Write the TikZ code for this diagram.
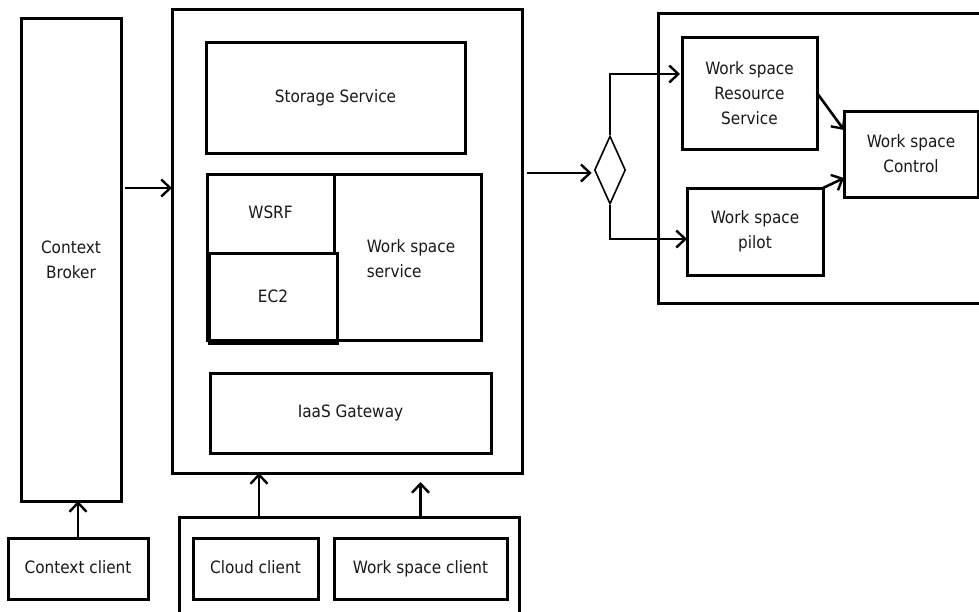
\documentclass[tikz,border=0pt]{standalone}
\usepackage{fontspec}
\setmainfont{DejaVu Sans Condensed}
\usetikzlibrary{arrows.meta,shapes.geometric,calc}

\tikzset{
  box/.style={draw, line width=3pt, rectangle, inner sep=0pt, outer sep=0pt,
    anchor=north west, text=black!90, align=center,
    font=\fontsize{17}{25}\selectfont},
  oneline/.style={text height=13pt, text depth=4pt},
  arr/.style={line width=2.6pt, -{Straight Barb[length=9pt,width=17pt,line width=2.4pt]}},
}

\begin{document}
\begin{tikzpicture}[x=1pt,y=-1pt]
  % canvas
  \fill[white] (0,0) rectangle (979,611);
  \useasboundingbox (0,0) rectangle (979,611);

  % left column
  \node[box, minimum width=100pt, minimum height=483pt] (broker) at (21,18) {Context\\Broker};
  \node[box, oneline, minimum width=140pt, minimum height=61pt] (cclient) at (8,538) {Context client};

  % central service container
  \node[box, minimum width=350pt, minimum height=464pt] (main) at (172,9) {};
  \node[box, oneline, minimum width=259pt, minimum height=111pt] (storage) at (206,42) {Storage Service};
  \node[box, minimum width=274pt, minimum height=166pt] (wss) at (207,174) {};
  \node[anchor=center, text=black!90, align=left, font=\fontsize{17}{25}\selectfont] (wsstext) at (411,259) {Work space\\ service};
  \node[box, oneline, minimum width=127pt, minimum height=79pt] (wsrf) at (207,174) {WSRF};
  \node[box, oneline, minimum width=128pt, minimum height=90pt] (ec2) at (209,253) {EC2};
  \node[box, oneline, minimum width=281pt, minimum height=80pt] (iaas) at (210,373) {IaaS Gateway};

  % clients
  \node[box, minimum width=340pt, minimum height=130pt] (clients) at (179,517) {};
  \node[box, oneline, minimum width=125pt, minimum height=61pt] (cloud) at (193,538) {Cloud client};
  \node[box, oneline, minimum width=173pt, minimum height=61pt] (wsclient) at (334,538) {Work space client};

  % workspace side
  \node[draw, diamond, line width=1.6pt, minimum width=31pt, minimum height=68pt, inner sep=0pt] (dec) at (610,170) {};
  \node[box, minimum width=340pt, minimum height=290pt] (right) at (658,13) {};
  \node[box, minimum width=135pt, minimum height=112pt] (wsrs) at (682,37) {Work space\\Resource\\Service};
  \node[box, minimum width=136pt, minimum height=87pt] (pilot) at (687,188) {Work space\\pilot};
  \node[box, minimum width=134pt, minimum height=86pt] (control) at (844,111) {Work space\\Control};

  % routing levels
  \coordinate (yb) at (0,188);
  \coordinate (ym) at (0,173);
  \coordinate (yup) at (0,74);
  \coordinate (ydn) at (0,239);
  \coordinate (xcloud) at (259,0);

  % connectors
  \draw[arr, shorten <=4pt] (broker.east |- yb) -- (main.west |- yb);
  \draw[arr] (cclient.north) -- (cclient.north |- broker.south);
  \draw[arr] (xcloud |- clients.north) -- (xcloud |- main.south);
  \draw[arr, shorten >=9pt] (wsclient.north |- clients.north) -- (wsclient.north |- main.south);
  \draw[arr, shorten <=5pt, shorten >=2pt] (main.east |- ym) -- (dec.west |- ym);
  \draw[arr, shorten >=2pt] (dec.north) -- (dec.north |- yup) -- (wsrs.west |- yup);
  \draw[arr] (dec.south) -- (dec.south |- ydn) -- (pilot.west |- ydn);
  \draw[arr] (wsrs.east) -- ($(control.north west)+(0,19)$);
  \draw[arr] (pilot.north east) -- ($(control.south west)+(0,-19)$);
\end{tikzpicture}
\end{document}
